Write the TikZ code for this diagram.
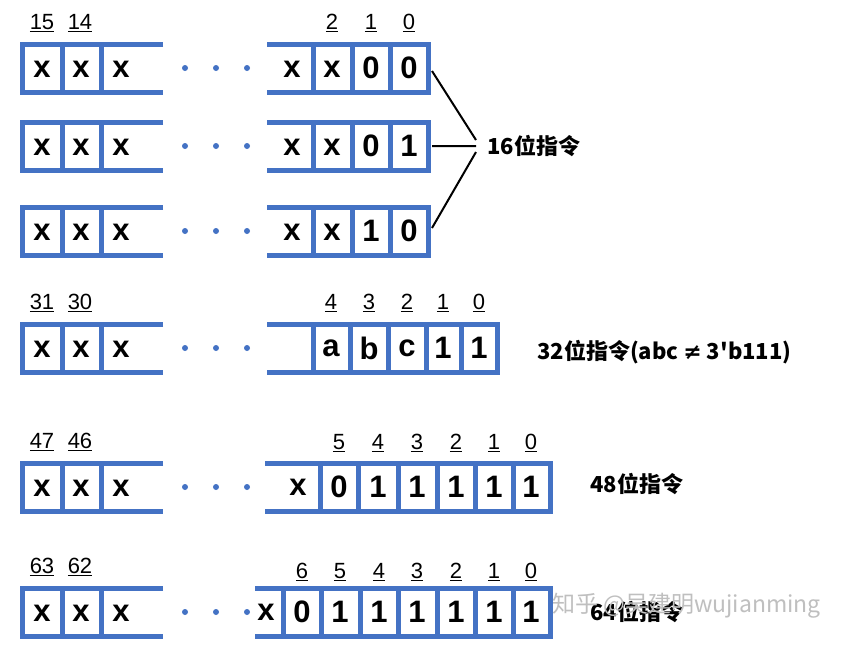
\documentclass[tikz,border=0pt]{standalone}
\usepackage{fontspec}
\setmainfont{Liberation Sans}
\newfontfamily\cjk{Noto Sans CJK SC}
\newfontfamily\dv{DejaVu Sans}
\definecolor{bl}{RGB}{68,114,196}
\begin{document}
\begin{tikzpicture}[x=1pt,y=-1pt,
 wall/.style={draw=bl,line width=5pt},
 bit/.style={font=\fontsize{31}{33}\selectfont\bfseries,inner sep=0},
 idx/.style={font=\fontsize{22}{24}\selectfont,inner sep=0},
 lab/.style={font=\fontsize{22}{24}\selectfont\bfseries\cjk,inner sep=0,anchor=west},
 dot/.style={circle,fill=bl,inner sep=0,minimum size=6pt}]
\useasboundingbox[fill=white] (0,0) rectangle (865,646);
% left parts
\foreach \y/\a/\b [count=\i] in {68/15/14,146//,231//,348/31/30,487/47/46,612/63/62}{
  \draw[wall] (163,\y-24) -- (22,\y-24) -- (22,\y+24) -- (163,\y+24);
  \draw[wall] (62,\y-24) -- (62,\y+24) (101,\y-24) -- (101,\y+24);
  \node[bit] (l\i a) at (42,\y+1) {x};
  \node[bit] (l\i b) at (81,\y+1) {x};
  \node[bit] (l\i c) at (121,\y+1) {x};
  \node[idx] (n\i a) at (42,\y-45) {\underline{\a}};
  \node[idx] (n\i b) at (80,\y-45) {\underline{\b}};
  \foreach \d in {185,216,247} \node[dot] at (\d,\y) {};
}
% row 1-3 right
\foreach \y/\p/\q [count=\i] in {68/0/0,146/0/1,231/1/0}{
  \draw[wall] (267,\y-24) -- (428,\y-24) -- (428,\y+24) -- (267,\y+24);
  \draw[wall] (313,\y-24) -- (313,\y+24) (352,\y-24) -- (352,\y+24) (390,\y-24) -- (390,\y+24);
  \node[bit] at (292,\y+1) {x};
  \node[bit] at (332,\y+1) {x};
  \node[bit] at (371,\y) {\p};
  \node[bit] (r\i) at (409,\y) {\q};
  \coordinate (e\i) at (430,\y);
}
\node[idx] at (332,23) {\underline{2}};
\node[idx] at (371,23) {\underline{1}};
\node[idx] at (409,23) {\underline{0}};
\node[lab] (t16) at (487,146) {16位指令};
\coordinate (j1) at (476,140);\coordinate (j2) at (476,146);\coordinate (j3) at (476,152);
\draw[line width=2pt] (e1) ++(2,3) -- (j1) (e2) ++(2,0) -- (j2) (e3) ++(2,-3) -- (j3);
% row 32
\draw[wall] (267,324) -- (497,324) -- (497,372) -- (267,372);
\foreach \w in {313,350,388,426,461} \draw[wall] (\w,324) -- (\w,372);
\foreach \x/\t/\k in {331/a/4,369/b/3,407/c/2,443/1/1,479/1/0}{
  \node[bit] at (\x,348) {\t};
  \node[idx] at (\x,303) {\underline{\k}};
}
\node[lab] (t32) at (537,352) {32位指令(abc {\dv\bfseries ≠} 3'b111)};
% row 48
\draw[wall] (265,463) -- (550,463) -- (550,511) -- (265,511);
\foreach \w in {320,358,398,437,475,513} \draw[wall] (\w,463) -- (\w,511);
\node[bit] at (298,487) {x};
\foreach \x/\t/\k in {339/0/5,378/1/4,417/1/3,456/1/2,494/1/1,531/1/0}{
  \node[bit] at (\x,487) {\t};
  \node[idx] at (\x,443) {\underline{\k}};
}
\node[lab] (t48) at (590,484) {48位指令};
% row 64
\draw[wall] (255,588) -- (550,588) -- (550,636) -- (255,636);
\foreach \w in {283,321,360,398,437,475,513} \draw[wall] (\w,588) -- (\w,636);
\node[bit] at (266,612) {x};
\foreach \x/\t/\k in {302/0/6,340/1/5,379/1/4,417/1/3,456/1/2,494/1/1,531/1/0}{
  \node[bit] at (\x,612) {\t};
  \node[idx] at (\x,572) {\underline{\k}};
}
\node[lab] (t64) at (590,612) {64位指令};
\node[inner sep=0,anchor=west,text=black!25,font=\fontsize{23}{24}\selectfont\cjk] (wm) at (552,606) {知乎 @吴建明wujianming};
\end{tikzpicture}
\end{document}
